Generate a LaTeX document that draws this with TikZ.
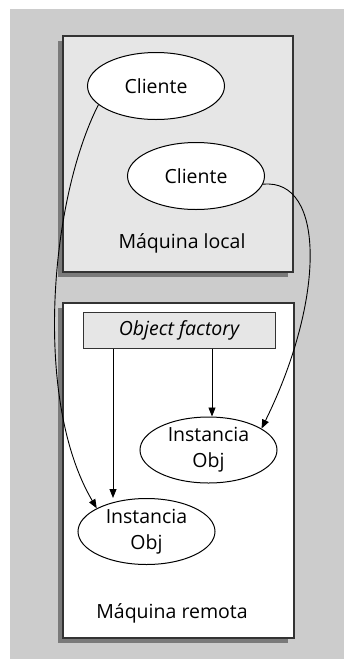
\documentclass[tikz,border=0pt]{standalone}
\usepackage{fontspec}
\setmainfont{Open Sans}
\usetikzlibrary{shapes.geometric,arrows.meta}
\definecolor{bggray}{HTML}{CCCCCC}
\definecolor{panelgray}{HTML}{E6E6E6}
\definecolor{shadowgray}{HTML}{7A7A7A}
\definecolor{edgegray}{HTML}{333333}
\tikzset{
  panel/.style={draw=edgegray, line width=1.1pt},
  panelshadow/.style={fill=shadowgray, draw=none},
  client/.style={ellipse, draw=black, line width=1pt, fill=white, minimum width=137pt, minimum height=67pt, inner sep=0pt, font=\fontsize{19.5}{22}\selectfont},
  instance/.style={ellipse, draw=black, line width=1pt, fill=white, minimum width=137pt, minimum height=66pt, inner sep=0pt, align=center, font=\fontsize{19.5}{26}\selectfont},
  factory/.style={draw=edgegray, line width=1pt, fill=panelgray, minimum width=192pt, minimum height=36pt, inner sep=0pt, font=\fontsize{19.5}{22}\selectfont\itshape},
  caption/.style={font=\fontsize{19.5}{22}\selectfont},
  link/.style={line width=0.9pt, -{Triangle[length=9pt,width=7pt]}}
}
\begin{document}
\begin{tikzpicture}[x=1pt,y=-1pt]
  \useasboundingbox (0,0) rectangle (344,659);
  % backdrop
  \fill[bggray] (10,9) rectangle (344,659);

  % local machine panel
  \fill[panelshadow] (58,41) rectangle (288,277);
  \filldraw[panel, fill=panelgray] (63,36) rectangle (293,272);
  \node[caption] (localcap) at (182,243) {Máquina local};

  % remote machine panel
  \fill[panelshadow] (58,308) rectangle (288,643);
  \filldraw[panel, fill=white] (63,303) rectangle (294,638);
  \node[caption] (remotecap) at (172,613) {Máquina remota};

  % nodes
  \node[client] (c1) at (156,86) {Cliente};
  \node[client] (c2) at (196,176) {Cliente};
  \node[factory] (fac) at (179,330) {Object factory};
  \node[instance] (i1) at (208.5,450) {Instancia\\Obj};
  \node[instance] (i2) at (146.5,531.5) {Instancia\\Obj};

  % factory to instances
  \draw[link] (fac.south -| 113,0) -- (i2.north -| 113,0);
  \draw[link] (fac.south -| 212,0) -- (i1.north -| 212,0);

  % clients to remote instances
  \draw[link] (c1.198) .. controls (50,200) and (33,400) .. (i2.155);
  \draw[link] (c2.-7) .. controls (326,178) and (325,300) .. (i1.22);
\end{tikzpicture}
\end{document}
